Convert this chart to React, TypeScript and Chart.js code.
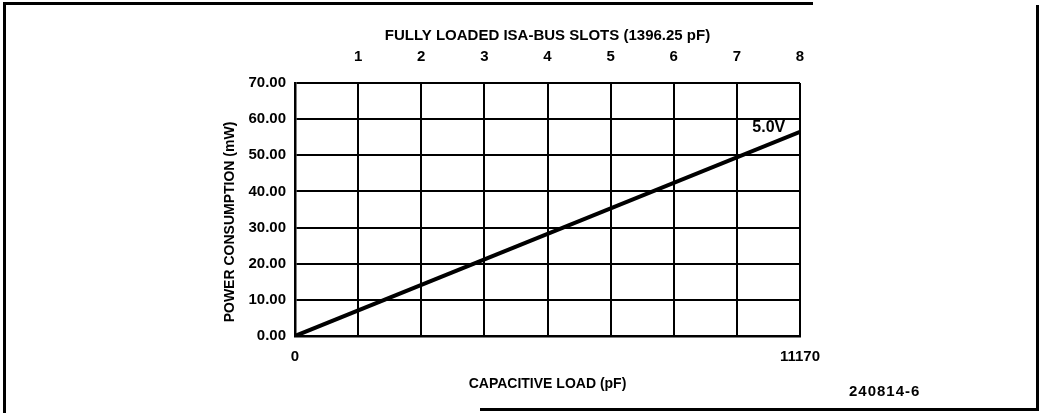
import React, { useEffect, useRef } from "react";
import { Chart, registerables } from "chart.js";

Chart.register(...registerables);

// ---- data ----
const capacitiveLoad = [0, 11170]; // pF
const powerMw = [0, 56.5]; // mW at 5.0V
const slotCapacitance = 1396.25; // pF per fully loaded ISA-bus slot
const slotNumbers = [1, 2, 3, 4, 5, 6, 7, 8];
const gridSlots = [0, 1, 2, 3, 4, 5, 6, 7, 8];
const xLabelValues = [0, 11170];
const xLabelTexts = ["0", "11170"];
const yTickValues = [0, 10, 20, 30, 40, 50, 60, 70];
const yTickLabels = ["0.00", "10.00", "20.00", "30.00", "40.00", "50.00", "60.00", "70.00"];
const seriesLabel = "5.0V";
const seriesLabelAt = { x: 10480, y: 57.6 };
const topTitle = "FULLY LOADED ISA-BUS SLOTS (1396.25 pF)";
const bottomTitle = "CAPACITIVE LOAD (pF)";
const leftTitle = "POWER CONSUMPTION (mW)";
const figureNumber = "240814-6";

const FONT = "'Liberation Sans', Arial, sans-serif";

export default function App() {
  const ref = useRef<HTMLCanvasElement | null>(null);

  useEffect(() => {
    document.body.style.margin = "0";
    const canvas = ref.current;
    if (!canvas) return;

    const labelPlugin = {
      id: "annotations",
      afterDraw(chart: any) {
        const { ctx, scales } = chart;
        ctx.save();
        ctx.fillStyle = "#000";
        ctx.font = `bold 16px ${FONT}`;
        ctx.textAlign = "center";
        ctx.textBaseline = "middle";
        ctx.fillText(
          seriesLabel,
          scales.x.getPixelForValue(seriesLabelAt.x),
          scales.y.getPixelForValue(seriesLabelAt.y)
        );
        // y-axis title
        ctx.font = `bold 14px ${FONT}`;
        ctx.translate(230, 222);
        ctx.rotate(-Math.PI / 2);
        ctx.fillText(leftTitle, 0, 0);
        ctx.restore();
      },
    };

    const chart = new Chart(canvas, {
      type: "scatter",
      data: {
        datasets: [
          {
            label: seriesLabel,
            data: capacitiveLoad.map((x, i) => ({ x, y: powerMw[i] })),
            showLine: true,
            borderColor: "#000",
            borderWidth: 4,
            pointRadius: 0,
            xAxisID: "x",
            yAxisID: "y",
          },
        ],
      },
      options: {
        animation: false,
        responsive: false,
        devicePixelRatio: 1,
        layout: { padding: { left: 215, right: 240, top: 20, bottom: 18 } },
        plugins: {
          legend: { display: false },
          tooltip: { enabled: false },
          title: { display: false },
        },
        scales: {
          x: {
            type: "linear",
            position: "bottom",
            min: 0,
            max: 11170,
            afterBuildTicks: (s: any) => {
              s.ticks = gridSlots.map((n) => ({ value: n * slotCapacitance }));
            },
            afterFit: (s: any) => {
              s.height = 59;
            },
            grid: { color: "#000", lineWidth: 2, drawTicks: false },
            border: { color: "#000", width: 2.5 },
            ticks: {
              autoSkip: false,
              maxRotation: 0,
              padding: 12,
              color: "#000",
              font: { family: FONT, size: 15, weight: "bold" },
              callback: (v: any) => {
                const i = xLabelValues.indexOf(Number(v));
                return i >= 0 ? xLabelTexts[i] : "";
              },
            },
            title: {
              display: true,
              text: bottomTitle,
              color: "#000",
              font: { family: FONT, size: 14, weight: "bold" },
              padding: { top: 0, bottom: 2 },
            },
          },
          x2: {
            type: "linear",
            position: "top",
            min: 0,
            max: 8,
            afterBuildTicks: (s: any) => {
              s.ticks = slotNumbers.map((n) => ({ value: n }));
            },
            afterFit: (s: any) => {
              s.height = 63;
            },
            grid: { display: false },
            border: { display: false },
            ticks: {
              autoSkip: false,
              maxRotation: 0,
              padding: 9,
              color: "#000",
              font: { family: FONT, size: 15, weight: "bold" },
              callback: (v: any) => String(v),
            },
            title: {
              display: true,
              text: topTitle,
              color: "#000",
              font: { family: FONT, size: 15, weight: "bold" },
              padding: { top: 7, bottom: 0 },
            },
          },
          y: {
            type: "linear",
            position: "left",
            min: 0,
            max: 70,
            afterBuildTicks: (s: any) => {
              s.ticks = yTickValues.map((v) => ({ value: v }));
            },
            afterFit: (s: any) => {
              s.width = 80;
            },
            grid: { color: "#000", lineWidth: 2, drawTicks: false },
            border: { color: "#000", width: 2.5 },
            ticks: {
              autoSkip: false,
              padding: 9,
              color: "#000",
              font: { family: FONT, size: 15, weight: "bold" },
              callback: (v: any) => {
                const i = yTickValues.indexOf(Number(v));
                return i >= 0 ? yTickLabels[i] : "";
              },
            },
          },
        },
      } as any,
      plugins: [labelPlugin],
    });

    return () => chart.destroy();
  }, []);

  const line = (style: React.CSSProperties) => (
    <div style={{ position: "absolute", background: "#000", ...style }} />
  );

  return (
    <div style={{ position: "relative", width: 1040, height: 413, background: "#fff", overflow: "hidden" }}>
      <canvas ref={ref} width={1040} height={413} style={{ position: "absolute", left: 0, top: 0 }} />
      {line({ left: 3, top: 2, width: 810, height: 2.5 })}
      {line({ left: 3, top: 2, width: 2.5, height: 411 })}
      {line({ left: 1036, top: 5, width: 2.5, height: 406 })}
      {line({ left: 480, top: 408, width: 558, height: 2.5 })}
      <div
        style={{
          position: "absolute",
          left: 849,
          top: 382,
          font: `bold 15px ${FONT}`,
          letterSpacing: "1px",
          color: "#000",
          lineHeight: "18px",
        }}
      >
        {figureNumber}
      </div>
    </div>
  );
}
